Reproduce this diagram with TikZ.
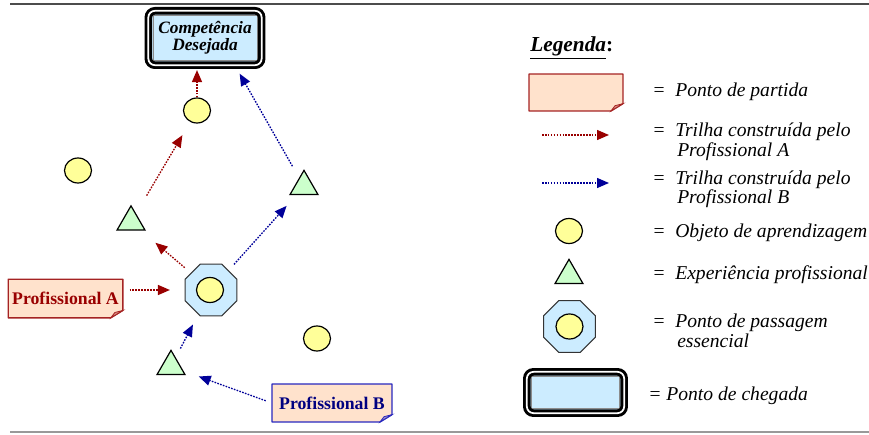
\documentclass[tikz,border=0pt]{standalone}
\usepackage{fontspec}
\setmainfont{Liberation Serif}
\usetikzlibrary{arrows.meta,shapes.geometric}
\definecolor{pessego}{RGB}{255,226,204}
\definecolor{vermelho}{RGB}{153,0,0}
\definecolor{bordaA}{RGB}{165,35,35}
\definecolor{azulB}{RGB}{0,0,153}
\definecolor{bordaB}{RGB}{40,40,190}
\definecolor{marinho}{RGB}{0,0,128}
\definecolor{amarelo}{RGB}{255,255,153}
\definecolor{verde}{RGB}{204,255,204}
\definecolor{celeste}{RGB}{204,236,255}
\newcommand{\legfont}{\fontsize{14.7}{13}\selectfont\itshape}
% canto dobrado das caixas de partida
\newcommand{\dobra}[2]{%
  \fill[white] ([yshift=5.5pt]#1.south east) -- (#1.south east)
    -- ([xshift=-9pt]#1.south east) -- cycle;
  \draw[#2, line width=1pt, line join=round] (#1.north west) -- (#1.north east)
    -- ([yshift=5.5pt]#1.south east) -- ([xshift=-9pt]#1.south east)
    -- (#1.south west) -- cycle;
  \filldraw[draw=#2, fill=#2!45!pessego, line width=0.6pt]
    ([yshift=5.5pt]#1.south east) -- ([xshift=-9pt]#1.south east)
    -- ([shift={(-6pt,4pt)}]#1.south east) -- cycle;}
\tikzset{>={Triangle[length=9pt,width=7.5pt]},
  objeto/.style={ellipse, draw, line width=0.9pt, fill=amarelo,
    minimum width=20.25pt, minimum height=18.75pt, inner sep=0pt},
  experiencia/.style={regular polygon, regular polygon sides=3, draw,
    line width=0.9pt, fill=verde, minimum size=24.2pt, inner sep=0pt},
  passagem/.style={regular polygon, regular polygon sides=8, draw=black!80,
    line width=0.8pt, fill=celeste, minimum size=42pt, inner sep=0pt},
  chegada/.style={draw, rounded corners=5pt, line width=2.2pt, double=white,
    double distance=1.3pt, fill=celeste, inner sep=0pt, outer sep=2.9pt,
    path picture={\draw[black!45, line width=0.5pt, sharp corners]
      ([shift={(3.4pt,-3.4pt)}]path picture bounding box.north west) rectangle
      ([shift={(-3.4pt,3.4pt)}]path picture bounding box.south east);}},
  partida/.style={fill=pessego, inner sep=0pt, outer sep=0pt},
  trilhaA/.style={->, draw=vermelho, line width=1pt, dash pattern=on 1.2pt off 1pt},
  trilhaB/.style={->, draw=azulB, line width=1pt, dash pattern=on 1.2pt off 1pt},
  legenda/.style={anchor=base west, inner sep=0pt, font=\legfont}}
\begin{document}
\begin{tikzpicture}[x=0.75pt, y=-0.75pt]
  \useasboundingbox (0,0) rectangle (869,435);
  \draw[black!70, line width=1.1pt] (10,4) -- (869,4);
  \draw[black!40, line width=1.1pt] (10,432) -- (869,432);
  % trilhas
  \node[chegada, minimum width=85pt, minimum height=40.8pt, align=center,
    font={\fontsize{13}{12.75}\selectfont\bfseries\itshape}] (meta) at (205,38)
    {Competência\\Desejada};
  \node[objeto] (c1) at (197,110.5) {};
  \node[objeto] (c2) at (78,170.5) {};
  \node[objeto] (c3) at (317,338.5) {};
  \node[experiencia] (t1) at (131,222) {};
  \node[experiencia] (t2) at (304,186.5) {};
  \node[experiencia] (t3) at (171,366.5) {};
  \node[passagem] (pe) at (211,290) {};
  \node[objeto] (pe-c) at (210,290) {};
  \node[partida, minimum width=86pt, minimum height=29pt, text=vermelho,
    font={\fontsize{13.3}{14}\selectfont\bfseries}] (pA) at (65.5,298.5) {Profissional A};
  \dobra{pA}{bordaA}
  \node[partida, minimum width=90pt, minimum height=28.5pt, text=marinho,
    font={\fontsize{13.3}{14}\selectfont\bfseries}] (pB) at (332,403) {Profissional B};
  \dobra{pB}{bordaB}
  \draw[trilhaA, shorten >=0.75pt] (c1.north) -- (c1.north |- meta.south);
  \draw[trilhaA, shorten <=15.5pt, shorten >=11.5pt] (t1) -- (c1);
  \draw[trilhaA, shorten <=6pt, shorten >=14pt] (pe) -- (t1);
  \draw[trilhaA, shorten <=5pt, shorten >=11pt] (pA.east |- pe) -- (pe);
  \draw[trilhaB, shorten <=7.5pt, shorten >=8.5pt] (t3) -- (pe);
  \draw[trilhaB, shorten <=5pt, shorten >=12pt] (pB.west) -- (t3);
  \draw[trilhaB, shorten <=6pt, shorten >=10.8pt] (pe) -- (t2);
  \draw[trilhaB, shorten <=10pt, shorten >=4pt] (t2) -- ([xshift=24pt]meta.south);
  % legenda
  \node[anchor=base west, inner sep=0pt, font={\fontsize{16}{16}\selectfont}] (titulo)
    at (530,52) {\underline{\textbf{\textit{Legenda}}}\textbf{:}};
  \node[partida, minimum width=70.5pt, minimum height=27.75pt] (leg-partida) at (576,92.5) {};
  \dobra{leg-partida}{bordaA}
  \coordinate (legA-ini) at (542,135);
  \coordinate (legA-fim) at (609,135);
  \draw[trilhaA] (legA-ini) -- (legA-fim);
  \coordinate (legB-ini) at (542,183);
  \coordinate (legB-fim) at (609,183);
  \draw[trilhaB] (legB-ini) -- (legB-fim);
  \node[objeto] (leg-objeto) at (569,231) {};
  \node[experiencia] (leg-exp) at (569,275.5) {};
  \node[passagem] (leg-pe) at (569.5,326.5) {};
  \node[objeto] (leg-pe-c) at (569.5,326.5) {};
  \node[chegada, minimum width=73pt, minimum height=31pt] (leg-cheg) at (575.5,392.5) {};
  \node[legenda] (txt-partida) at (652,97) {=~~Ponto de partida};
  \node[legenda] (txt-A1) at (652,136.5) {=~~Trilha construída pelo};
  \node[legenda] (txt-A2) at (677,156.5) {Profissional A};
  \node[legenda] (txt-B1) at (652,184.5) {=~~Trilha construída pelo};
  \node[legenda] (txt-B2) at (677,203.5) {Profissional B};
  \node[legenda] (txt-objeto) at (652,238) {=~~Objeto de aprendizagem};
  \node[legenda] (txt-exp) at (652,280) {=~~Experiência profissional};
  \node[legenda] (txt-pe1) at (652,327) {=~~Ponto de passagem};
  \node[legenda] (txt-pe2) at (677,347) {essencial};
  \node[legenda] (txt-cheg) at (648,400) {= Ponto de chegada};
\end{tikzpicture}
\end{document}
